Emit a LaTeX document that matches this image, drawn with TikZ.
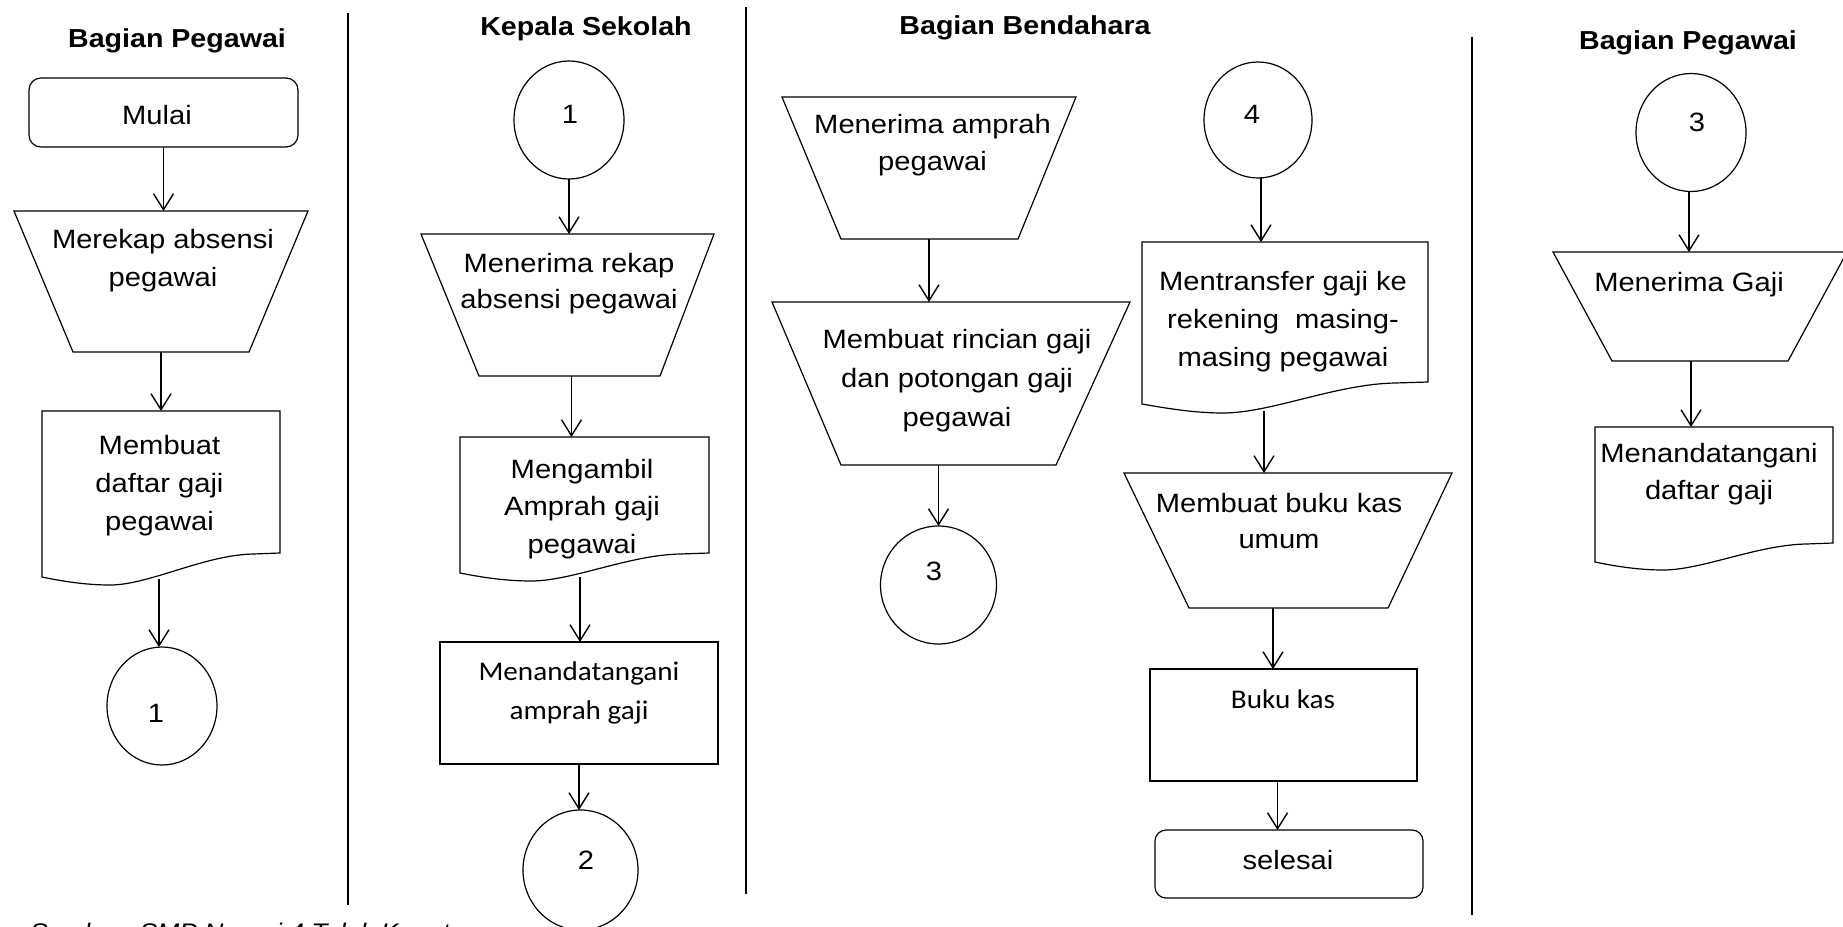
\documentclass[tikz,border=0pt]{standalone}
\usepackage{fontspec}
\setmainfont{Liberation Sans}[FakeStretch=1.1]
\newfontfamily\calibri{Carlito}[FakeStretch=1.08]
\usetikzlibrary{arrows.meta,shapes.geometric}
\begin{document}
\begin{tikzpicture}[x=1pt,y=-1pt,
  shp/.style={line width=1.2pt, line join=miter},
  arr/.style={line width=1.4pt, -{Straight Barb[length=16pt,width=20pt]}},
  divider/.style={line width=2pt},
  frame/.style={draw=none, inner sep=0pt, outer sep=0pt},
  boxnode/.style={draw, line width=1.2pt, inner sep=0pt, outer sep=0pt},
  circ/.style={draw, ellipse, line width=1.2pt, inner sep=0pt, outer sep=0pt},
  txt/.style={font=\fontsize{26.5}{38}\selectfont, align=center, inner sep=0pt, anchor=base},
  ctxt/.style={font=\calibri\fontsize{27}{39.5}\selectfont, align=center, inner sep=0pt, anchor=base},
  ttl/.style={font=\fontsize{26}{30}\selectfont\bfseries, inner sep=0pt, anchor=base},
]
\useasboundingbox (0,0) rectangle (1843,926);
\fill[white] (0,0) rectangle (1843,926);
\clip (0,0) rectangle (1843,926);

% dividers
\draw[divider] (348,13) -- (348,905);
\draw[divider] (746,7) -- (746,894);
\draw[divider] (1472,37) -- (1472,915);

% titles
\node[ttl] (hP1) at (177,47) {Bagian Pegawai};
\node[ttl] (hKS) at (586,35) {Kepala Sekolah};
\node[ttl] (hBB) at (1025,34) {Bagian Bendahara};
\node[ttl] (hP2) at (1688,49) {Bagian Pegawai};

% ---------------- Bagian Pegawai (left)
\node[boxnode, rounded corners=12pt, minimum width=269pt, minimum height=69pt] (mulai) at (163.5,112.5) {};
\node[txt] (xMulai) at (157,124) {Mulai};

\node[frame, minimum width=294pt, minimum height=141pt] (t1) at (161,281.5) {};
\draw[shp] (14,211) -- (308,211) -- (249,352) -- (73,352) -- cycle;
\node[txt] (xT1) at (163,286) {Merekap absensi\\pegawai};

\node[frame, minimum width=238pt, minimum height=142pt] (d1) at (161,482) {};
\draw[shp] (42,577) -- (42,411) -- (280,411) -- (280,553) -- (253,554)
  .. controls (204,555) and (149,585) .. (110,585)
  .. controls (85,585) and (61,581) .. (42,577) -- cycle;
\coordinate (d1w) at (159,579);
\node[txt] (xD1) at (159.5,530) {Membuat\\daftar gaji\\pegawai};

\node[circ, minimum width=110pt, minimum height=118pt] (c1) at (162,706) {};
\node[txt] (x1) at (156,722) {1};

\draw[arr] (mulai.south) -- (mulai.south |- t1.north);
\draw[arr] (t1.south) -- (t1.south |- d1.north);
\draw[arr] (d1w) -- (d1w |- c1.north);

% ---------------- Kepala Sekolah
\node[circ, minimum width=110pt, minimum height=118pt] (k1) at (569,120) {};
\node[txt] (xK1) at (570,123) {1};

\node[frame, minimum width=293pt, minimum height=142pt] (t2) at (567.5,305) {};
\draw[shp] (421,234) -- (714,234) -- (660,376) -- (479,376) -- cycle;
\node[txt, font=\fontsize{26.5}{35.5}\selectfont] (xT2) at (569,308) {Menerima rekap\\absensi pegawai};

\node[frame, minimum width=249pt, minimum height=116pt] (d2) at (584.5,495) {};
\draw[shp] (460,573) -- (460,437) -- (709,437) -- (709,553) -- (680,554)
  .. controls (629,555) and (572,581) .. (531,581)
  .. controls (505,581) and (480,577) .. (460,573) -- cycle;
\coordinate (d2w) at (580,577);
\node[txt, font=\fontsize{26.5}{37.5}\selectfont] (xD2) at (582,553) {Mengambil\\Amprah gaji\\pegawai};

\node[boxnode, minimum width=278pt, minimum height=122pt] (b2) at (579,703) {};
\node[ctxt] (xB2) at (579,719.5) {Menandatangani\\amprah gaji};

\node[circ, minimum width=115pt, minimum height=120pt] (c2) at (580.5,870) {};
\node[txt] (x2) at (586,869) {2};

\draw[arr] (k1.south) -- (k1.south |- t2.north);
\draw[arr] ([xshift=4pt]t2.south) -- ([xshift=4pt]t2.south |- d2.north);
\draw[arr] (d2w) -- (d2w |- b2.north);
\draw[arr] (b2.south) -- (b2.south |- c2.north);

% ---------------- Bagian Bendahara
\node[frame, minimum width=294pt, minimum height=142pt] (tA) at (929,168) {};
\draw[shp] (782,97) -- (1076,97) -- (1018,239) -- (841,239) -- cycle;
\node[txt, font=\fontsize{26.5}{37}\selectfont] (xTA) at (932.5,170) {Menerima amprah\\pegawai};

\node[frame, minimum width=358pt, minimum height=163pt] (tB) at (951,383.5) {};
\draw[shp] (772,302) -- (1130,302) -- (1056,465) -- (841,465) -- cycle;
\node[txt, font=\fontsize{26.5}{39}\selectfont] (xTB) at (957,426) {Membuat rincian gaji\\dan potongan gaji\\pegawai};

\node[circ, minimum width=116pt, minimum height=118pt] (c3) at (938.5,585) {};
\node[txt] (x3) at (934,580) {3};

\draw[arr] (tA.south) -- (tA.south |- tB.north);
\draw[arr] (c3.north |- tB.south) -- (c3.north);

\node[circ, minimum width=108pt, minimum height=116pt] (c4) at (1258,120) {};
\node[txt] (x4) at (1252,123) {4};

\node[frame, minimum width=286pt, minimum height=140pt] (dM) at (1285,312) {};
\draw[shp] (1142,404) -- (1142,242) -- (1428,242) -- (1428,382) -- (1395,383)
  .. controls (1336,384) and (1271,413) .. (1223,413)
  .. controls (1193,413) and (1165,408) .. (1142,404) -- cycle;
\coordinate (dMw) at (1264,411);
\node[txt] (xDM) at (1283,366) {Mentransfer gaji ke\\rekening\ \ masing-\\masing pegawai};

\node[frame, minimum width=328pt, minimum height=135pt] (tK) at (1288,540.5) {};
\draw[shp] (1124,473) -- (1452,473) -- (1388,608) -- (1189,608) -- cycle;
\node[txt, font=\fontsize{26.5}{36}\selectfont] (xTK) at (1279,548) {Membuat buku kas\\umum};

\node[boxnode, minimum width=267pt, minimum height=112pt] (bK) at (1283.5,725) {};
\node[ctxt] (xBK) at (1283,708) {Buku kas};

\node[boxnode, rounded corners=11pt, minimum width=268pt, minimum height=68pt] (sel) at (1289,864) {};
\node[txt] (xSel) at (1288,869) {selesai};

\draw[arr] ([xshift=3pt]c4.south) -- ([xshift=3pt]c4.south |- dM.north);
\draw[arr] (dMw) -- (dMw |- tK.north);
\draw[arr] ([xshift=-15pt]tK.south) -- ([xshift=-15pt]tK.south |- bK.north);
\draw[arr] ([xshift=-6pt]bK.south) -- ([xshift=-6pt]bK.south |- sel.north);

% ---------------- Bagian Pegawai (right)
\node[circ, minimum width=110pt, minimum height=118pt] (c3r) at (1691,132.5) {};
\node[txt] (x3r) at (1697,131) {3};

\node[frame, minimum width=294pt, minimum height=109pt] (tG) at (1700,306.5) {};
\draw[shp] (1553,252) -- (1847,252) -- (1788,361) -- (1612,361) -- cycle;
\node[txt] (xTG) at (1689,291) {Menerima Gaji};

\node[frame, minimum width=238pt, minimum height=116pt] (dT) at (1714,485) {};
\draw[shp] (1595,562) -- (1595,427) -- (1833,427) -- (1833,543) -- (1806,544)
  .. controls (1757,545) and (1702,570) .. (1663,570)
  .. controls (1638,570) and (1614,566) .. (1595,562) -- cycle;
\node[txt, font=\fontsize{26.5}{37}\selectfont] (xDT) at (1709,499) {Menandatangani\\daftar gaji};

\draw[arr] ([xshift=-2pt]c3r.south) -- ([xshift=-2pt]c3r.south |- tG.north);
\draw[arr] ([xshift=-9pt]tG.south) -- ([xshift=-9pt]tG.south |- dT.north);

% source note
\node[font=\fontsize{24}{28}\selectfont\itshape, inner sep=0pt, anchor=base west] (src) at (30,940) {Sumber: SMP Negeri 4 Teluk Kuantan};
\end{tikzpicture}
\end{document}
